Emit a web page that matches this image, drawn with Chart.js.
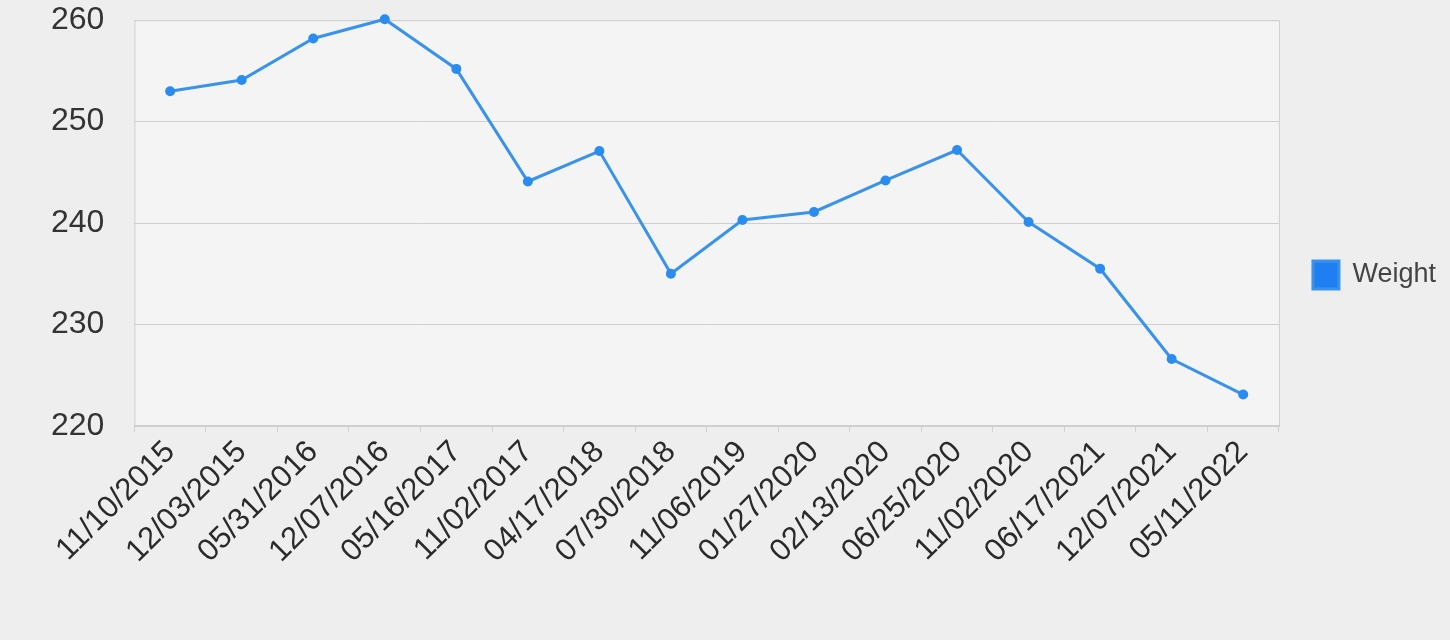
<!DOCTYPE html>
<html>
<head>
<meta charset="utf-8">
<script src="https://cdn.jsdelivr.net/npm/chart.js@4/dist/chart.umd.min.js"></script>
<style>
  html, body { margin: 0; padding: 0; background: #eeeeee; }
  #wrap { width: 1450px; height: 640px; }
</style>
</head>
<body>
<div id="wrap"><canvas id="weight-chart"></canvas></div>
<script>
// weigh-in dates and values
var dates = ['11/10/2015', '12/03/2015', '05/31/2016', '12/07/2016', '05/16/2017', '11/02/2017',
    '04/17/2018', '07/30/2018', '11/06/2019', '01/27/2020', '02/13/2020', '06/25/2020',
    '11/02/2020', '06/17/2021', '12/07/2021', '05/11/2022'];
var weights = [253, 254.1, 258.2, 260.1, 255.2, 244.1, 247.1, 235, 240.3, 241.1, 244.2, 247.2, 240.1, 235.5, 226.6, 223.1];
var yMin = 220;
var yMax = 260;
var yStep = 10;

var lineColor = '#3a93ea';

// plot background + frame, like the google chart look
var plotFrame = {
    id: 'plotFrame',
    afterLayout: function (chart) {
        // nudge the legend a bit right and up, to where it sits in the photo
        var lg = chart.legend;
        lg.left += 14; lg.right += 14;
        lg.top -= 11; lg.bottom -= 11;
    },
    beforeDraw: function (chart) {
        var ctx = chart.ctx;
        var a = chart.chartArea;
        ctx.save();
        ctx.fillStyle = '#eeeeee';
        ctx.fillRect(0, 0, chart.width, chart.height);
        ctx.fillStyle = '#f4f4f4';
        ctx.fillRect(a.left, a.top, a.right - a.left, a.bottom - a.top);
        ctx.strokeStyle = '#cfcfcf';
        ctx.lineWidth = 1;
        ctx.strokeRect(a.left + 0.5, a.top + 0.5, a.right - a.left, a.bottom - a.top);
        ctx.restore();
    }
};

var ctx = document.getElementById('weight-chart').getContext('2d');
var weightChart = new Chart(ctx, {
    type: 'line',
    data: {
        labels: dates,
        datasets: [{
            label: 'Weight',
            data: weights,
            borderColor: lineColor,
            backgroundColor: '#1f7ff2',
            borderWidth: 3,
            pointRadius: 5,
            pointBackgroundColor: '#2b8cf0',
            pointBorderWidth: 0,
            tension: 0,
            clip: false
        }]
    },
    options: {
        responsive: true,
        maintainAspectRatio: false,
        animation: false,
        layout: {
            padding: { top: 0, left: 50, right: 18, bottom: 68 }
        },
        plugins: {
            legend: {
                position: 'right',
                labels: {
                    boxWidth: 26,
                    boxHeight: 28,
                    padding: 20,
                    color: '#444444',
                    font: { family: 'Liberation Sans, Arial, sans-serif', size: 27 }
                }
            },
            tooltip: { enabled: false }
        },
        scales: {
            x: {
                offset: true,
                grid: {
                    offset: true,
                    drawOnChartArea: false,
                    drawTicks: true,
                    tickLength: 6,
                    color: '#cfcfcf'
                },
                border: { color: '#cfcfcf' },
                ticks: {
                    autoSkip: false,
                    minRotation: 45,
                    maxRotation: 45,
                    padding: 2,
                    color: '#2a2a2a',
                    font: { family: 'Liberation Sans, Arial, sans-serif', size: 31 }
                }
            },
            y: {
                min: yMin,
                max: yMax,
                grid: {
                    color: '#cfcfcf',
                    drawTicks: true,
                    tickLength: 29,
                    tickColor: 'rgba(0,0,0,0)'
                },
                border: { display: false },
                ticks: {
                    stepSize: yStep,
                    padding: 1,
                    color: '#333333',
                    font: { family: 'Liberation Sans, Arial, sans-serif', size: 32 }
                }
            }
        }
    },
    plugins: [plotFrame]
});
</script>
</body>
</html>
